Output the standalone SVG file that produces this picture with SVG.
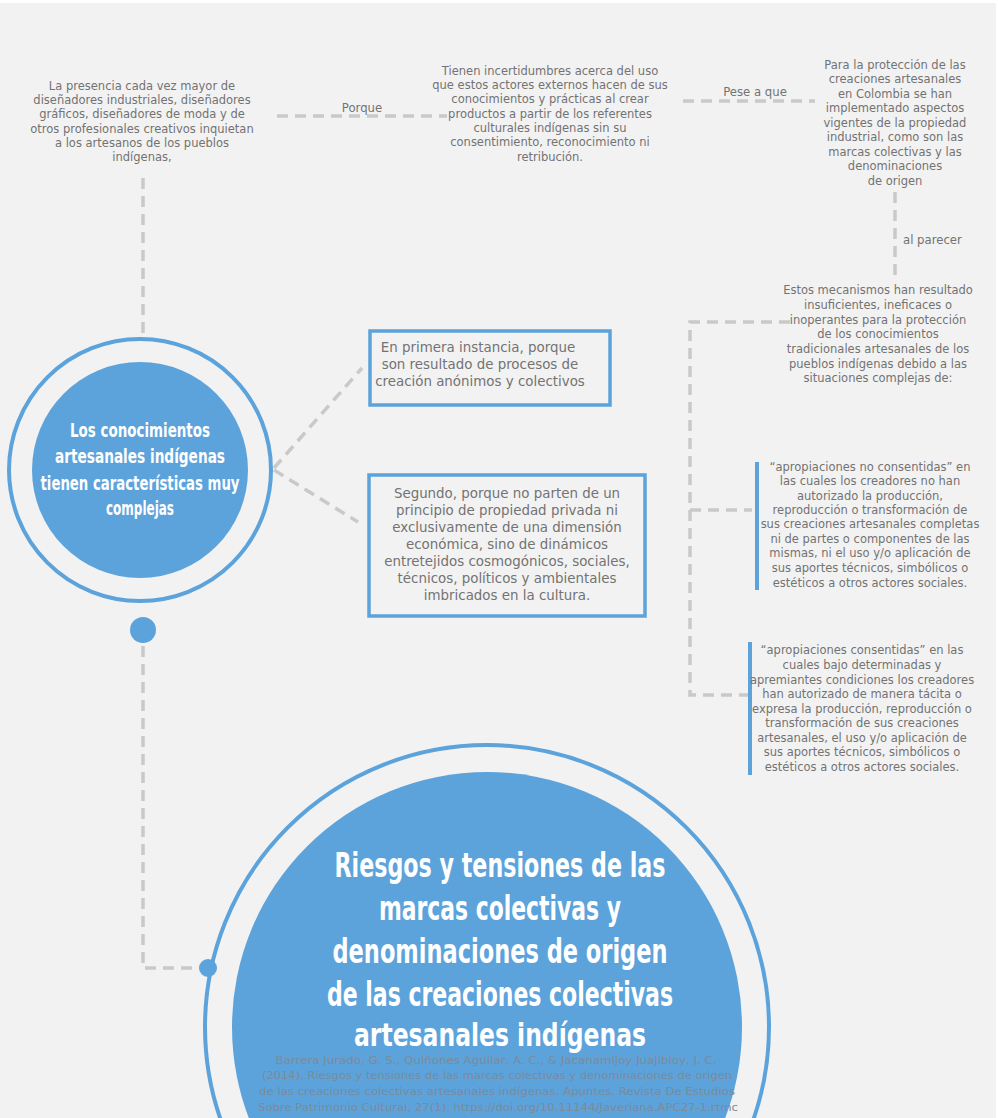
<svg xmlns="http://www.w3.org/2000/svg" width="998" height="1118" viewBox="0 0 998 1118">
<style>
.bg{fill:#f2f2f2}
.t{font-family:"DejaVu Sans","Liberation Sans",sans-serif;font-size:11.5px;fill:#737373;text-anchor:middle}
.bx{font-family:"DejaVu Sans","Liberation Sans",sans-serif;font-size:13.4px;fill:#737373;text-anchor:middle}
.lb{font-family:"DejaVu Sans","Liberation Sans",sans-serif;font-size:11.7px;fill:#737373;text-anchor:middle}
.h{font-family:"DejaVu Sans Condensed","DejaVu Sans",sans-serif;font-stretch:condensed;font-weight:bold;fill:#ffffff;text-anchor:middle}
.cit{font-family:"DejaVu Sans","Liberation Sans",sans-serif;font-size:10.4px;fill:#7d8a98;text-anchor:middle}
.dash{fill:none;stroke:#c9c9c9;stroke-width:3.5;stroke-dasharray:11 7}
.ring{fill:none;stroke:#5ca3dc;stroke-width:4}
.fillb{fill:#5ca3dc}
.box{fill:none;stroke:#5ca3dc;stroke-width:3.5}
.bar{fill:#5ca3dc}
</style>
<rect x="0" y="0" width="998" height="1118" fill="#ffffff"/>
<rect class="bg" x="0" y="3" width="996" height="1115"/>

<g id="connectors">
<line class="dash" x1="143" y1="178" x2="143" y2="336"/>
<line class="dash" x1="277" y1="116" x2="447" y2="116"/>
<line class="dash" x1="683" y1="101" x2="815" y2="101"/>
<line class="dash" x1="895" y1="192" x2="895" y2="276"/>
<path class="dash" d="M790 322 H690 V695 H748"/>
<line class="dash" x1="690" y1="510" x2="752" y2="510"/>
<line class="dash" x1="274" y1="468" x2="362" y2="368"/>
<line class="dash" x1="274" y1="470" x2="358" y2="522"/>
<path class="dash" d="M143 646 V968 H198"/>
<text class="lb" x="362" y="112">Porque</text>
<text class="lb" x="755" y="96">Pese a que</text>
<text class="lb" x="903" y="244" style="text-anchor:start">al parecer</text>
</g>

<g id="node-presencia">
<text class="t" x="142" y="90">La presencia cada vez mayor de</text>
<text class="t" x="142" y="104">diseñadores industriales, diseñadores</text>
<text class="t" x="142" y="118">gráficos, diseñadores de moda y de</text>
<text class="t" x="142" y="133">otros profesionales creativos inquietan</text>
<text class="t" x="142" y="147">a los artesanos de los pueblos</text>
<text class="t" x="142" y="161">indígenas,</text>
</g>

<g id="node-incertidumbres">
<text class="t" x="550" y="75">Tienen incertidumbres acerca del uso</text>
<text class="t" x="550" y="89">que estos actores externos hacen de sus</text>
<text class="t" x="550" y="103">conocimientos y prácticas al crear</text>
<text class="t" x="550" y="118">productos a partir de los referentes</text>
<text class="t" x="550" y="132">culturales indígenas sin su</text>
<text class="t" x="550" y="146">consentimiento, reconocimiento ni</text>
<text class="t" x="550" y="161">retribución.</text>
</g>

<g id="node-proteccion">
<text class="t" x="895" y="69">Para la protección de las</text>
<text class="t" x="895" y="83">creaciones artesanales</text>
<text class="t" x="895" y="98">en Colombia se han</text>
<text class="t" x="895" y="112">implementado aspectos</text>
<text class="t" x="895" y="127">vigentes de la propiedad</text>
<text class="t" x="895" y="141">industrial, como son las</text>
<text class="t" x="895" y="156">marcas colectivas y las</text>
<text class="t" x="895" y="170">denominaciones</text>
<text class="t" x="895" y="185">de origen</text>
</g>

<g id="node-mecanismos">
<text class="t" x="878" y="294">Estos mecanismos han resultado</text>
<text class="t" x="878" y="309">insuficientes, ineficaces o</text>
<text class="t" x="878" y="324">inoperantes para la protección</text>
<text class="t" x="878" y="338">de los conocimientos</text>
<text class="t" x="878" y="353">tradicionales artesanales de los</text>
<text class="t" x="878" y="368">pueblos indígenas debido a las</text>
<text class="t" x="878" y="382">situaciones complejas de:</text>
</g>

<g id="node-no-consentidas">
<rect class="bar" x="755" y="462" width="4" height="128"/>
<text class="t" x="870" y="471">“apropiaciones no consentidas” en</text>
<text class="t" x="870" y="485">las cuales los creadores no han</text>
<text class="t" x="870" y="500">autorizado la producción,</text>
<text class="t" x="870" y="514">reproducción o transformación de</text>
<text class="t" x="870" y="528">sus creaciones artesanales completas</text>
<text class="t" x="870" y="543">ni de partes o componentes de las</text>
<text class="t" x="870" y="557">mismas, ni el uso y/o aplicación de</text>
<text class="t" x="870" y="572">sus aportes técnicos, simbólicos o</text>
<text class="t" x="870" y="587">estéticos a otros actores sociales.</text>
</g>

<g id="node-consentidas">
<rect class="bar" x="748" y="642" width="4" height="133"/>
<text class="t" x="862" y="654">“apropiaciones consentidas” en las</text>
<text class="t" x="862" y="669">cuales bajo determinadas y</text>
<text class="t" x="862" y="684">apremiantes condiciones los creadores</text>
<text class="t" x="862" y="698">han autorizado de manera tácita o</text>
<text class="t" x="862" y="713">expresa la producción, reproducción o</text>
<text class="t" x="862" y="727">transformación de sus creaciones</text>
<text class="t" x="862" y="742">artesanales, el uso y/o aplicación de</text>
<text class="t" x="862" y="756">sus aportes técnicos, simbólicos o</text>
<text class="t" x="862" y="771">estéticos a otros actores sociales.</text>
</g>

<g id="node-primera">
<rect class="box" x="370" y="331" width="240" height="74"/>
<text class="bx" x="478" y="352">En primera instancia, porque</text>
<text class="bx" x="480" y="369">son resultado de procesos de</text>
<text class="bx" x="480" y="386">creación anónimos y colectivos</text>
</g>

<g id="node-segundo">
<rect class="box" x="369" y="475" width="276" height="141"/>
<text class="bx" x="507" y="498">Segundo, porque no parten de un</text>
<text class="bx" x="507" y="515">principio de propiedad privada ni</text>
<text class="bx" x="507" y="532">exclusivamente de una dimensión</text>
<text class="bx" x="507" y="549">económica, sino de dinámicos</text>
<text class="bx" x="507" y="566">entretejidos cosmogónicos, sociales,</text>
<text class="bx" x="507" y="583">técnicos, políticos y ambientales</text>
<text class="bx" x="507" y="600">imbricados en la cultura.</text>
</g>

<g id="node-conocimientos">
<circle class="ring" cx="140" cy="470" r="131"/>
<circle class="fillb" cx="140" cy="470" r="108"/>
<text class="h" x="140" y="437" font-size="19" textLength="140" lengthAdjust="spacingAndGlyphs">Los conocimientos</text>
<text class="h" x="140" y="463" font-size="19" textLength="170" lengthAdjust="spacingAndGlyphs">artesanales indígenas</text>
<text class="h" x="140" y="490" font-size="19" textLength="199" lengthAdjust="spacingAndGlyphs">tienen características muy</text>
<text class="h" x="140" y="515" font-size="19" textLength="68" lengthAdjust="spacingAndGlyphs">complejas</text>
</g>

<g id="node-dot1">
<circle class="fillb" cx="143" cy="630" r="13"/>
</g>

<g id="node-dot2">
<circle class="fillb" cx="208" cy="968" r="9"/>
</g>

<g id="node-riesgos">
<circle class="ring" cx="487" cy="1027" r="282"/>
<circle class="fillb" cx="487" cy="1027" r="255"/>
<text class="h" x="500" y="877" font-size="33" textLength="331" lengthAdjust="spacingAndGlyphs">Riesgos y tensiones de las</text>
<text class="h" x="500" y="920" font-size="33" textLength="242" lengthAdjust="spacingAndGlyphs">marcas colectivas y</text>
<text class="h" x="500" y="963" font-size="33" textLength="335" lengthAdjust="spacingAndGlyphs">denominaciones de origen</text>
<text class="h" x="500" y="1006" font-size="33" textLength="346" lengthAdjust="spacingAndGlyphs">de las creaciones colectivas</text>
<text class="h" x="500" y="1046" font-size="32" textLength="292" lengthAdjust="spacingAndGlyphs">artesanales indígenas</text>
<text class="cit" x="496" y="1064" textLength="441" lengthAdjust="spacingAndGlyphs">Barrera Jurado, G. S., Quiñones Aguilar, A. C., &amp; Jacanamijoy Juajibioy, J. C.</text>
<text class="cit" x="497" y="1079" textLength="470" lengthAdjust="spacingAndGlyphs">(2014). Riesgos y tensiones de las marcas colectivas y denominaciones de origen</text>
<text class="cit" x="497" y="1095" textLength="476" lengthAdjust="spacingAndGlyphs">de las creaciones colectivas artesanales indígenas. Apuntes. Revista De Estudios</text>
<text class="cit" x="498" y="1111" textLength="480" lengthAdjust="spacingAndGlyphs">Sobre Patrimonio Cultural, 27(1). https://doi.org/10.11144/Javeriana.APC27-1.rtmc</text>
</g>
</svg>
